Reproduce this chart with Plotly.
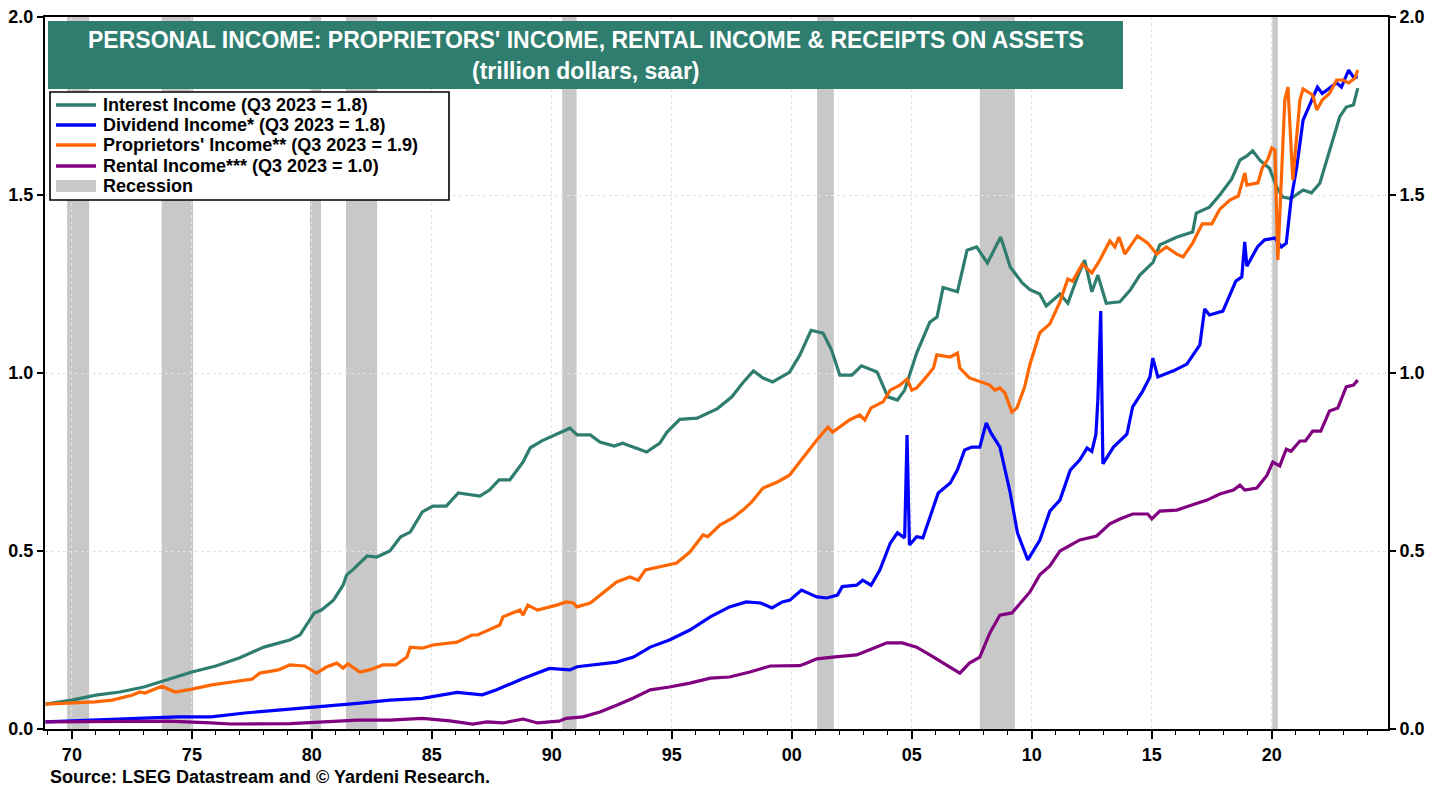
import plotly.graph_objects as go

# ---------------- data (trillion dollars, saar) ----------------
interest_x = [1968.9, 1970.0, 1971.0, 1972.0, 1973.0, 1974.0, 1975.0, 1976.0, 1977.0, 1978.0,
              1979.08, 1979.5, 1979.9, 1980.1, 1980.4, 1980.9, 1981.3, 1981.45, 1981.7, 1982.3,
              1982.7, 1983.25, 1983.7, 1984.1, 1984.6, 1985.05, 1985.6, 1986.1, 1987.0, 1987.4,
              1987.8, 1988.25, 1988.8, 1989.1, 1989.6, 1990.3, 1990.75, 1991.05, 1991.6, 1992.0,
              1992.6, 1992.95, 1993.95, 1994.5, 1994.8, 1995.33, 1996.05, 1996.9, 1997.5, 1997.95,
              1998.4, 1998.8, 1999.2, 1999.9, 2000.33, 2000.8, 2001.3, 2001.65, 2002.0, 2002.5,
              2002.9, 2003.55, 2004.0, 2004.4, 2004.7, 2005.2, 2005.75, 2006.05, 2006.3, 2006.9,
              2007.3, 2007.7, 2008.15, 2008.7, 2009.1, 2009.6, 2009.92, 2010.33, 2010.6, 2011.17,
              2011.5, 2011.9, 2012.2, 2012.5, 2012.75, 2013.1, 2013.67, 2014.1, 2014.5, 2015.05,
              2015.33, 2016.05, 2016.7, 2016.85, 2017.4, 2017.83, 2018.33, 2018.67, 2018.96, 2019.2,
              2019.5, 2019.9, 2020.2, 2020.45, 2020.8, 2021.3, 2021.65, 2022.0, 2022.4, 2022.83,
              2023.1, 2023.4, 2023.58]
interest_y = [0.070, 0.081, 0.095, 0.104, 0.118, 0.138, 0.160, 0.177, 0.200, 0.230,
              0.250, 0.264, 0.306, 0.326, 0.334, 0.362, 0.404, 0.433, 0.447, 0.486,
              0.483, 0.500, 0.540, 0.553, 0.610, 0.626, 0.626, 0.663, 0.654, 0.671,
              0.700, 0.700, 0.750, 0.790, 0.810, 0.830, 0.845, 0.826, 0.826, 0.806,
              0.795, 0.803, 0.778, 0.803, 0.834, 0.870, 0.873, 0.900, 0.933, 0.972,
              1.006, 0.986, 0.975, 1.002, 1.050, 1.120, 1.112, 1.065, 0.994, 0.994,
              1.020, 1.003, 0.933, 0.924, 0.952, 1.056, 1.143, 1.157, 1.240, 1.228,
              1.345, 1.354, 1.309, 1.382, 1.298, 1.253, 1.234, 1.222, 1.188, 1.222,
              1.196, 1.270, 1.317, 1.228, 1.275, 1.196, 1.200, 1.233, 1.275, 1.311,
              1.360, 1.382, 1.396, 1.449, 1.466, 1.500, 1.545, 1.598, 1.610, 1.624,
              1.598, 1.575, 1.523, 1.494, 1.490, 1.514, 1.506, 1.533, 1.626, 1.720,
              1.747, 1.753, 1.800]

dividend_x = [1968.9, 1972.3, 1974.4, 1975.8, 1977.2, 1978.6, 1979.7, 1981.9, 1983.25, 1984.6,
              1986.05, 1987.1, 1987.7, 1988.8, 1989.9, 1990.75, 1991.05, 1992.7, 1993.4, 1994.1,
              1994.9, 1995.75, 1996.6, 1997.4, 1998.1, 1998.7, 1999.17, 1999.6, 1999.92, 2000.4,
              2001.04, 2001.46, 2001.9, 2002.1, 2002.7, 2002.95, 2003.3, 2003.67, 2004.1, 2004.4,
              2004.7, 2004.8, 2004.9, 2005.2, 2005.46, 2005.75, 2006.1, 2006.6, 2006.9, 2007.2,
              2007.5, 2007.83, 2008.1, 2008.3, 2008.67, 2009.1, 2009.4, 2009.83, 2010.33, 2010.75,
              2011.17, 2011.6, 2012.0, 2012.3, 2012.5, 2012.67, 2012.75, 2012.87, 2012.96, 2013.4,
              2013.96, 2014.2, 2014.6, 2014.92, 2015.04, 2015.25, 2015.9, 2016.46, 2017.0, 2017.2,
              2017.4, 2017.96, 2018.5, 2018.75, 2018.87, 2018.96, 2019.4, 2019.7, 2020.13, 2020.4,
              2020.6, 2020.8, 2021.04, 2021.3, 2021.6, 2021.9, 2022.1, 2022.4, 2022.7, 2022.9,
              2023.2, 2023.4, 2023.58]
dividend_y = [0.020, 0.028, 0.034, 0.034, 0.045, 0.053, 0.059, 0.072, 0.081, 0.086,
              0.103, 0.096, 0.110, 0.142, 0.170, 0.166, 0.175, 0.188, 0.202, 0.230,
              0.250, 0.278, 0.315, 0.343, 0.357, 0.354, 0.340, 0.357, 0.362, 0.390,
              0.371, 0.368, 0.376, 0.400, 0.404, 0.418, 0.404, 0.447, 0.522, 0.551,
              0.537, 0.826, 0.517, 0.540, 0.537, 0.596, 0.663, 0.691, 0.728, 0.784,
              0.792, 0.792, 0.860, 0.831, 0.792, 0.663, 0.551, 0.475, 0.530, 0.612,
              0.643, 0.727, 0.756, 0.789, 0.780, 0.828, 0.924, 1.174, 0.745, 0.792,
              0.828, 0.905, 0.947, 0.989, 1.042, 0.989, 1.006, 1.025, 1.079, 1.180,
              1.163, 1.174, 1.258, 1.270, 1.368, 1.300, 1.354, 1.374, 1.379, 1.354,
              1.365, 1.486, 1.579, 1.710, 1.758, 1.803, 1.785, 1.800, 1.815, 1.803,
              1.851, 1.831, 1.831]

proprietors_x = [1968.9, 1970.25, 1970.95, 1971.67, 1972.5, 1972.83, 1973.04, 1973.75, 1974.3, 1975.0,
                 1975.83, 1976.67, 1977.5, 1977.83, 1978.6, 1979.08, 1979.7, 1980.2, 1980.6, 1981.04,
                 1981.3, 1981.5, 1982.0, 1982.4, 1982.96, 1983.5, 1983.96, 1984.1, 1984.6, 1985.05,
                 1986.05, 1986.67, 1986.9, 1987.83, 1987.96, 1988.67, 1988.8, 1989.0, 1989.4, 1990.2,
                 1990.6, 1990.9, 1991.04, 1991.6, 1992.1, 1992.7, 1993.25, 1993.6, 1993.9, 1994.5,
                 1995.2, 1995.75, 1996.3, 1996.5, 1997.0, 1997.54, 1997.96, 1998.33, 1998.8, 1999.4,
                 1999.9, 2000.4, 2001.04, 2001.5, 2001.7, 2002.4, 2002.83, 2003.04, 2003.3, 2003.8,
                 2004.1, 2004.5, 2004.8, 2005.0, 2005.2, 2005.6, 2005.9, 2006.04, 2006.6, 2006.9,
                 2007.0, 2007.4, 2007.83, 2008.25, 2008.46, 2008.67, 2008.875, 2009.17, 2009.38, 2009.7,
                 2009.92, 2010.13, 2010.33, 2010.75, 2011.17, 2011.5, 2011.7, 2012.1, 2012.5, 2012.83,
                 2013.25, 2013.46, 2013.63, 2013.875, 2014.4, 2014.83, 2015.2, 2015.6, 2016.04, 2016.3,
                 2016.7, 2017.1, 2017.5, 2017.83, 2018.25, 2018.6, 2018.875, 2018.96, 2019.42, 2019.6,
                 2019.83, 2020.0, 2020.13, 2020.25, 2020.54, 2020.67, 2020.875, 2021.17, 2021.3, 2021.7,
                 2021.875, 2022.1, 2022.4, 2022.7, 2022.96, 2023.2, 2023.46, 2023.58]
proprietors_y = [0.070, 0.073, 0.076, 0.081, 0.095, 0.104, 0.101, 0.120, 0.104, 0.112,
                 0.124, 0.132, 0.140, 0.157, 0.166, 0.180, 0.177, 0.157, 0.174, 0.185,
                 0.171, 0.183, 0.160, 0.166, 0.180, 0.180, 0.202, 0.230, 0.227, 0.236,
                 0.244, 0.264, 0.264, 0.292, 0.315, 0.334, 0.320, 0.348, 0.334, 0.348,
                 0.357, 0.354, 0.343, 0.354, 0.382, 0.413, 0.427, 0.418, 0.447, 0.455,
                 0.466, 0.497, 0.545, 0.540, 0.573, 0.593, 0.615, 0.638, 0.677, 0.694,
                 0.713, 0.756, 0.812, 0.848, 0.834, 0.868, 0.882, 0.868, 0.902, 0.919,
                 0.952, 0.966, 0.983, 0.952, 0.958, 0.989, 1.014, 1.051, 1.045, 1.056,
                 1.014, 0.986, 0.975, 0.966, 0.952, 0.958, 0.944, 0.890, 0.902, 0.961,
                 1.024, 1.073, 1.113, 1.138, 1.200, 1.264, 1.258, 1.306, 1.281, 1.317,
                 1.371, 1.354, 1.382, 1.334, 1.385, 1.365, 1.334, 1.354, 1.334, 1.326,
                 1.365, 1.419, 1.419, 1.460, 1.486, 1.497, 1.562, 1.528, 1.534, 1.576,
                 1.600, 1.632, 1.626, 1.317, 1.767, 1.803, 1.542, 1.767, 1.798, 1.781,
                 1.739, 1.767, 1.785, 1.823, 1.823, 1.815, 1.828, 1.851]

rental_x = [1968.9, 1972.3, 1972.6, 1974.0, 1975.8, 1976.6, 1979.1, 1981.0, 1981.9, 1983.25,
            1984.6, 1985.75, 1986.7, 1987.3, 1987.96, 1988.8, 1989.4, 1990.3, 1990.6, 1991.3,
            1992.0, 1992.7, 1993.4, 1994.1, 1994.9, 1995.75, 1996.6, 1997.4, 1998.25, 1999.1,
            2000.33, 2000.6, 2001.04, 2001.7, 2002.7, 2003.4, 2003.96, 2004.6, 2005.2, 2005.75,
            2006.3, 2007.0, 2007.4, 2007.83, 2008.25, 2008.67, 2009.17, 2009.63, 2009.92, 2010.33,
            2010.75, 2011.17, 2011.6, 2012.0, 2012.7, 2013.25, 2013.67, 2014.2, 2014.83, 2015.0,
            2015.33, 2016.04, 2016.7, 2017.3, 2017.83, 2018.4, 2018.67, 2018.875, 2019.375, 2019.6,
            2019.8, 2020.04, 2020.33, 2020.6, 2020.8, 2021.17, 2021.4, 2021.7, 2022.04, 2022.4,
            2022.75, 2023.1, 2023.4, 2023.58]
rental_y = [0.020, 0.020, 0.022, 0.022, 0.017, 0.014, 0.015, 0.023, 0.025, 0.025,
            0.030, 0.023, 0.014, 0.020, 0.017, 0.028, 0.017, 0.022, 0.030, 0.034,
            0.048, 0.067, 0.087, 0.110, 0.118, 0.129, 0.143, 0.146, 0.160, 0.177,
            0.178, 0.185, 0.197, 0.202, 0.208, 0.227, 0.242, 0.242, 0.230, 0.208,
            0.185, 0.157, 0.185, 0.202, 0.270, 0.320, 0.326, 0.362, 0.385, 0.433,
            0.458, 0.500, 0.517, 0.531, 0.542, 0.576, 0.590, 0.604, 0.604, 0.590,
            0.612, 0.615, 0.630, 0.643, 0.660, 0.671, 0.685, 0.671, 0.677, 0.696,
            0.713, 0.750, 0.739, 0.786, 0.780, 0.809, 0.809, 0.837, 0.837, 0.893,
            0.902, 0.961, 0.966, 0.980]

recession_start = [1969.80, 1973.74, 1979.92, 1981.42, 1990.43, 2001.05, 2007.83, 2020.02]
recession_end = [1970.72, 1975.05, 1980.38, 1982.72, 1991.03, 2001.75, 2009.29, 2020.25]

tick_years = [1970, 1975, 1980, 1985, 1990, 1995, 2000, 2005, 2010, 2015, 2020]
tick_labels = ["70", "75", "80", "85", "90", "95", "00", "05", "10", "15", "20"]
y_ticks = [0.0, 0.5, 1.0, 1.5, 2.0]

series_names = ["Interest Income (Q3 2023 = 1.8)", "Dividend Income* (Q3 2023 = 1.8)",
                "Proprietors' Income** (Q3 2023 = 1.9)", "Rental Income*** (Q3 2023 = 1.0)"]
series_colors = ["#2E7D6E", "#0000FF", "#FF6600", "#800080"]
recession_label = "Recession"
title_line1 = "PERSONAL INCOME: PROPRIETORS' INCOME, RENTAL INCOME & RECEIPTS ON ASSETS"
title_line2 = "(trillion dollars, saar)"
source_text = "Source: LSEG Datastream and © Yardeni Research."

# ---------------- layout helpers (pixel -> paper) ----------------
W, H = 1442, 790
PL, PR, PT, PB = 45, 1388, 17, 729


def px(x):
    return (x - PL) / (PR - PL)


def py(y):
    return (PB - y) / (PB - PT)


FONT = "Arial, Liberation Sans, sans-serif"
REC_GRAY = "#C8C8C8"

fig = go.Figure()

series = [(interest_x, interest_y), (dividend_x, dividend_y),
          (proprietors_x, proprietors_y), (rental_x, rental_y)]
for (xs, ys), name, col in zip(series, series_names, series_colors):
    fig.add_trace(go.Scatter(x=xs, y=ys, mode="lines", name=name, showlegend=False,
                             line=dict(color=col, width=3.2)))

# invisible trace to activate right axis
fig.add_trace(go.Scatter(x=rental_x, y=rental_y, yaxis="y2", mode="lines",
                         line=dict(width=0, color="rgba(0,0,0,0)"), showlegend=False,
                         hoverinfo="skip"))

shapes = []
for s, e in zip(recession_start, recession_end):
    shapes.append(dict(type="rect", xref="x", yref="paper", x0=s, x1=e, y0=0, y1=1,
                       fillcolor=REC_GRAY, line=dict(width=0), layer="below"))
# title box
shapes.append(dict(type="rect", xref="paper", yref="paper", x0=px(48), x1=px(1123),
                   y0=py(89), y1=py(21), fillcolor="#2E7D6F", line=dict(width=0),
                   layer="above"))
# legend box
shapes.append(dict(type="rect", xref="paper", yref="paper", x0=px(50), x1=px(449),
                   y0=py(200), y1=py(92), fillcolor="white",
                   line=dict(width=1.6, color="black"), layer="above"))

annotations = [
    dict(xref="paper", yref="paper", x=px(585.5), y=py(40), xanchor="center", yanchor="middle",
         text=title_line1, showarrow=False,
         font=dict(family=FONT, size=23, color="white", weight="bold")),
    dict(xref="paper", yref="paper", x=px(585.5), y=py(71), xanchor="center", yanchor="middle",
         text=title_line2, showarrow=False,
         font=dict(family=FONT, size=23, color="white", weight="bold")),
    dict(xref="paper", yref="paper", x=px(48), y=py(777), xanchor="left", yanchor="middle",
         text=source_text, showarrow=False,
         font=dict(family=FONT, size=18, color="black", weight="bold")),
]

# manual legend entries
row_y = [105, 125, 145, 166, 186]
legend_font = dict(family=FONT, size=18, color="black", weight="bold")
for yy, name, col in zip(row_y[:4], series_names, series_colors):
    shapes.append(dict(type="line", xref="paper", yref="paper", x0=px(56), x1=px(96),
                       y0=py(yy), y1=py(yy), line=dict(color=col, width=3.5), layer="above"))
    annotations.append(dict(xref="paper", yref="paper", x=px(101), y=py(yy), xanchor="left",
                            yanchor="middle", text=name, showarrow=False, font=legend_font))
shapes.append(dict(type="rect", xref="paper", yref="paper", x0=px(56), x1=px(96),
                   y0=py(192), y1=py(180), fillcolor=REC_GRAY, line=dict(width=0),
                   layer="above"))
annotations.append(dict(xref="paper", yref="paper", x=px(101), y=py(row_y[4]), xanchor="left",
                        yanchor="middle", text=recession_label, showarrow=False,
                        font=legend_font))

tickfont = dict(family=FONT, size=18, color="black", weight="bold")
GRID = "#E2E2E2"

fig.update_layout(
    width=W, height=H,
    margin=dict(l=PL, r=W - PR, t=PT, b=H - PB, autoexpand=False),
    paper_bgcolor="white", plot_bgcolor="white",
    shapes=shapes, annotations=annotations,
    showlegend=False,
    xaxis=dict(range=[1968.88, 2024.84], tickmode="array", tickvals=tick_years,
               ticktext=tick_labels, ticks="outside", ticklen=8, tickwidth=1.5,
               tickcolor="black", tickfont=tickfont,
               minor=dict(tick0=1969, dtick=1, ticks="outside", ticklen=4, tickwidth=1,
                          tickcolor="black", showgrid=False),
               showgrid=True, gridcolor=GRID, griddash="dot", gridwidth=1,
               showline=True, linecolor="black", linewidth=2, mirror=True, zeroline=False,
               automargin=False),
    yaxis=dict(range=[0, 2], tickmode="array", tickvals=y_ticks, tickformat=".1f",
               ticks="outside", ticklen=6, tickwidth=1.5, tickcolor="black", tickfont=tickfont,
               showgrid=True, gridcolor=GRID, griddash="dot", gridwidth=1,
               showline=True, linecolor="black", linewidth=2, mirror=True, zeroline=False,
               automargin=False),
    yaxis2=dict(range=[0, 2], overlaying="y", side="right", tickmode="array",
                tickvals=y_ticks, tickformat=".1f", ticks="outside", ticklen=6,
                tickwidth=1.5, tickcolor="black", tickfont=tickfont, showgrid=False,
                showline=True, linecolor="black", linewidth=2, zeroline=False,
                automargin=False),
)

fig.write_html("out.html", config={"displayModeBar": False},
               post_script="document.body.style.margin='0';")
